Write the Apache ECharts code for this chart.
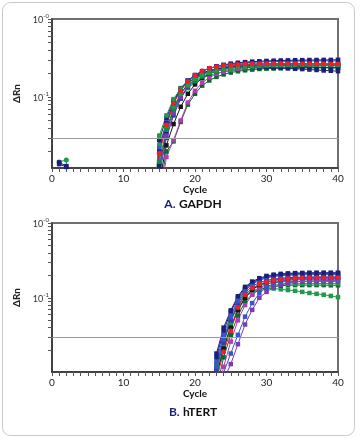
<!DOCTYPE html>
<html><head><meta charset="utf-8">
<script src="https://cdn.jsdelivr.net/npm/echarts@6/dist/echarts.min.js"></script>
<style>html,body{margin:0;padding:0;background:#fff}#c{width:360px;height:438px}</style>
</head><body><div id="c"></div>
<script>
// ---------- data ----------
const cyclesA = [14,15,16,17,18,19,20,21,22,23,24,25,26,27,28,29,30,31,32,33,34,35,36,37,38,39,40];
const cyclesB = [22,23,24,25,26,27,28,29,30,31,32,33,34,35,36,37,38,39,40];
const earlyCycles = [1,2,3];
const thresholdA = 0.0316;
const thresholdB = 0.028;
const yTicksMajor = [0.1, 1];
const yTicksMinor = [0.02,0.03,0.04,0.05,0.06,0.07,0.08,0.09,0.1,0.2,0.3,0.4,0.5,0.6,0.7,0.8,0.9,1];

// GAPDH curves
const gGreenLead = [0.002,0.032,0.058,0.094,0.128,0.155,0.176,0.193,0.207,0.218,0.227,0.234,0.24,0.245,0.249,0.252,0.254,0.256,0.257,0.258,0.258,0.259,0.259,0.259,0.259,0.258,0.258];
const gNavyLead = [0.001,0.028,0.054,0.09,0.13,0.162,0.186,0.204,0.218,0.228,0.236,0.242,0.246,0.249,0.251,0.252,0.252,0.252,0.251,0.25,0.248,0.246,0.244,0.242,0.24,0.238,0.236];
const gNavyLow = [0.001,0.013,0.035,0.07,0.11,0.148,0.178,0.2,0.215,0.226,0.233,0.238,0.241,0.242,0.242,0.241,0.24,0.238,0.236,0.233,0.23,0.228,0.225,0.222,0.219,0.217,0.214];
const gBlueTop = [0.001,0.022,0.048,0.086,0.126,0.162,0.192,0.215,0.232,0.245,0.255,0.263,0.269,0.274,0.278,0.281,0.283,0.285,0.286,0.287,0.288,0.289,0.289,0.29,0.29,0.29,0.29];
const gPurpleLag = [0.001,0.004,0.017,0.028,0.05,0.085,0.12,0.152,0.178,0.198,0.212,0.222,0.23,0.236,0.241,0.245,0.248,0.25,0.252,0.253,0.254,0.254,0.254,0.254,0.254,0.253,0.253];
const gDarkGreenLag = [0.001,0.006,0.02,0.027,0.048,0.08,0.11,0.14,0.163,0.181,0.195,0.206,0.214,0.22,0.225,0.229,0.232,0.234,0.236,0.237,0.238,0.239,0.239,0.24,0.24,0.24,0.24];
const gGreenMid = [0.001,0.024,0.045,0.075,0.11,0.142,0.17,0.193,0.21,0.223,0.232,0.239,0.244,0.248,0.251,0.253,0.254,0.255,0.256,0.256,0.256,0.256,0.256,0.256,0.255,0.255,0.255];
const gBlack = [0.001,0.008,0.024,0.045,0.075,0.11,0.145,0.175,0.198,0.215,0.228,0.237,0.243,0.248,0.251,0.253,0.255,0.256,0.257,0.257,0.257,0.257,0.257,0.256,0.256,0.256,0.255];
const gViolet = [0.001,0.01,0.03,0.058,0.095,0.135,0.168,0.195,0.215,0.23,0.241,0.249,0.255,0.259,0.262,0.264,0.266,0.267,0.268,0.268,0.268,0.268,0.268,0.267,0.267,0.266,0.266];
const gTeal = [0.001,0.015,0.038,0.068,0.1,0.132,0.16,0.183,0.2,0.214,0.224,0.232,0.238,0.243,0.247,0.25,0.252,0.254,0.255,0.256,0.257,0.257,0.258,0.258,0.258,0.258,0.258];
const gNavyTop = [0.001,0.02,0.046,0.084,0.124,0.16,0.19,0.214,0.233,0.248,0.259,0.268,0.275,0.28,0.284,0.287,0.29,0.292,0.294,0.295,0.296,0.297,0.298,0.298,0.299,0.299,0.3];
const gGreenLow = [0.001,0.02,0.04,0.068,0.1,0.13,0.155,0.175,0.19,0.201,0.21,0.216,0.221,0.225,0.228,0.23,0.232,0.233,0.234,0.235,0.235,0.235,0.236,0.236,0.236,0.236,0.236];
const gMagenta = [0.001,0.012,0.032,0.062,0.1,0.138,0.17,0.196,0.215,0.229,0.239,0.246,0.251,0.255,0.258,0.26,0.261,0.262,0.263,0.263,0.263,0.263,0.263,0.263,0.262,0.262,0.262];
const gRed = [0.001,0.019,0.044,0.083,0.12,0.158,0.19,0.215,0.233,0.245,0.253,0.258,0.262,0.264,0.266,0.267,0.268,0.268,0.268,0.268,0.268,0.267,0.267,0.266,0.266,0.265,0.265];
// GAPDH early noise points (cycles 1-3)
const gEarlyNavy = [0.0145,0.013,0.001];
const gEarlyNavy2 = [0.0138,0.0127,0.001];
const gEarlyGreen = [0.0147,0.0156,0.001];

// hTERT curves
const hNavyLead = [0.002,0.018,0.04,0.068,0.105,0.14,0.165,0.183,0.196,0.204,0.209,0.212,0.214,0.215,0.216,0.216,0.216,0.216,0.216];
const hBlue = [0.002,0.014,0.032,0.058,0.095,0.13,0.157,0.176,0.19,0.199,0.205,0.209,0.212,0.213,0.214,0.215,0.215,0.215,0.215];
const hGreenLow = [0.001,0.012,0.026,0.048,0.078,0.105,0.122,0.13,0.133,0.133,0.13,0.127,0.124,0.12,0.116,0.113,0.11,0.106,0.102];
const hGreen = [0.001,0.01,0.022,0.042,0.07,0.1,0.122,0.135,0.143,0.148,0.151,0.153,0.154,0.155,0.155,0.155,0.155,0.155,0.155];
const hDarkGreen = [0.001,0.006,0.016,0.032,0.058,0.088,0.112,0.128,0.137,0.142,0.145,0.147,0.148,0.148,0.148,0.148,0.148,0.147,0.147];
const hPurpleLag = [0.001,0.002,0.008,0.013,0.024,0.044,0.069,0.1,0.12,0.137,0.15,0.158,0.163,0.166,0.168,0.169,0.17,0.17,0.17];
const hBlueLag = [0.001,0.003,0.01,0.018,0.032,0.056,0.085,0.115,0.138,0.155,0.166,0.173,0.177,0.18,0.181,0.182,0.182,0.182,0.182];
const hNavy = [0.002,0.016,0.036,0.065,0.1,0.135,0.16,0.178,0.19,0.198,0.203,0.206,0.208,0.209,0.21,0.21,0.21,0.21,0.21];
const hBlack = [0.001,0.009,0.021,0.04,0.068,0.1,0.128,0.148,0.162,0.171,0.177,0.181,0.184,0.186,0.187,0.188,0.188,0.188,0.188];
const hViolet = [0.001,0.011,0.025,0.05,0.085,0.118,0.143,0.16,0.171,0.178,0.183,0.186,0.188,0.189,0.19,0.19,0.19,0.19,0.19];
const hGreenMid = [0.001,0.013,0.028,0.05,0.08,0.11,0.132,0.146,0.155,0.16,0.163,0.165,0.166,0.166,0.166,0.166,0.166,0.166,0.166];
const hMagenta = [0.001,0.004,0.012,0.026,0.05,0.08,0.11,0.135,0.152,0.162,0.168,0.172,0.174,0.175,0.176,0.176,0.176,0.176,0.176];
const hBlueMid = [0.001,0.012,0.028,0.055,0.09,0.125,0.152,0.171,0.184,0.192,0.197,0.2,0.202,0.203,0.204,0.204,0.204,0.204,0.204];
const hRed = [0.001,0.008,0.019,0.036,0.074,0.11,0.135,0.152,0.163,0.171,0.176,0.18,0.182,0.184,0.185,0.186,0.186,0.186,0.186];

// ---------- styling ----------
const C = {navy:'#1c1f78', blue:'#3a55c8', green:'#1f9a48', dgreen:'#0d6630', red:'#e8212e',
  purple:'#7a3ab8', magenta:'#b23cb0', black:'#151515', violet:'#3b3aa8', teal:'#17894a'};

function mk(grid, xs, vals, color, sym) {
  return {type:'line', xAxisIndex:grid, yAxisIndex:grid, data: xs.map((c,i)=>[c, vals[i]]),
    symbol: sym || 'rect', symbolSize: sym === 'circle' ? 5 : 4.5, showAllSymbol: true,
    lineStyle:{width:1, color: color}, itemStyle:{color: color}, clip:true, silent:true, z: 3};
}

const seriesA = [
  [gGreenLow,C.green],[gDarkGreenLag,C.dgreen],[gPurpleLag,C.magenta],[gBlack,C.black],
  [gNavyLow,C.navy],[gTeal,C.teal],[gViolet,C.violet],[gMagenta,C.purple],[gGreenMid,C.green],
  [gBlueTop,C.blue],[gNavyTop,C.navy],[gNavyLead,C.navy],[gGreenLead,C.green]
].map(s => mk(0, cyclesA, s[0], s[1]));
seriesA.push(mk(0, cyclesA, gRed, C.red, 'circle'));
seriesA.push(mk(0, earlyCycles, gEarlyNavy2, C.navy));
seriesA.push(mk(0, earlyCycles, gEarlyGreen, C.green, 'circle'));
seriesA.push(mk(0, earlyCycles, gEarlyNavy, C.navy));

const seriesB = [
  [hGreenLow,C.green],[hDarkGreen,C.dgreen],[hGreen,C.green],[hGreenMid,C.teal],[hPurpleLag,C.purple],
  [hMagenta,C.magenta],[hBlueLag,C.blue],[hBlack,C.black],[hViolet,C.violet],[hBlueMid,C.blue],
  [hNavy,C.navy],[hBlue,C.blue],[hNavyLead,C.navy]
].map(s => mk(1, cyclesB, s[0], s[1]));
seriesB.push(mk(1, cyclesB, hRed, C.red, 'circle'));

function thrSeries(grid, thr) {
  return {type:'line', xAxisIndex:grid, yAxisIndex:grid, data:[], silent:true,
    markLine:{silent:true, symbol:'none', label:{show:false}, animation:false,
      lineStyle:{color:'#9a9a9a', width:1, type:'solid'}, data:[{yAxis: thr}]}, z:2};
}

const FONT = 'Lato, "DejaVu Sans", sans-serif';
function xAx(grid) {
  return {type:'value', gridIndex:grid, min:0, max:40, interval:10,
    name:'Cycle', nameLocation:'middle', nameGap:17,
    nameTextStyle:{fontFamily:FONT, fontWeight:'bold', fontSize:10, color:'#111'},
    axisLine:{show:true, lineStyle:{color:'#333', width:1.5}},
    axisTick:{show:true, inside:false, length:4, lineStyle:{color:'#555'}},
    minorTick:{show:true, splitNumber:10, length:4, lineStyle:{color:'#555'}},
    axisLabel:{fontFamily:FONT, fontSize:10, color:'#222', margin:6},
    splitLine:{show:false}, minorSplitLine:{show:false}};
}
function yAx(grid, min) {
  return {type:'log', logBase:10, gridIndex:grid, min:min, max:1,
    name:'ΔRn', nameLocation:'middle', nameGap:25, nameRotate:90,
    nameTextStyle:{fontFamily:FONT, fontWeight:'bold', fontSize:10, color:'#222'},
    axisLine:{show:true, lineStyle:{color:'#333', width:1.5}},
    axisTick:{show:true, inside:false, length:4, customValues: yTicksMinor, lineStyle:{color:'#555'}},
    axisLabel:{customValues: yTicksMajor, margin:3, fontFamily:FONT, color:'#333',
      formatter: v => '{b|10}{s|-' + Math.abs(Math.round(Math.log10(v))) + '}',
      rich:{b:{fontSize:9, fontFamily:FONT, color:'#333', verticalAlign:'bottom', lineHeight:12},
            s:{fontSize:6, fontFamily:FONT, color:'#333', verticalAlign:'top', lineHeight:12}}},
    splitLine:{show:false}, minorTick:{show:false}};
}

const chart = echarts.init(document.getElementById('c'), null, {renderer:'canvas'});
chart.setOption({
  animation:false,
  backgroundColor:'#fff',
  grid:[
    {left:52, top:19, width:286, height:149, show:true, borderColor:'#707070', borderWidth:2, backgroundColor:'transparent'},
    {left:52, top:223, width:286, height:149, show:true, borderColor:'#707070', borderWidth:2, backgroundColor:'transparent'}
  ],
  xAxis:[xAx(0), xAx(1)],
  yAxis:[yAx(0, 0.0123), yAx(1, 0.0102)],
  graphic:[
    {type:'rect', shape:{x:2.5, y:2.5, width:352, height:433, r:8}, style:{fill:'none', stroke:'#c9c9c9', lineWidth:1}, silent:true},
    {type:'text', x:193, y:204, style:{text:'{a|A.} {b|GAPDH}', align:'center', verticalAlign:'middle',
      rich:{a:{fontFamily:FONT, fontWeight:'bold', fontSize:12, fill:'#1c2470'}, b:{fontFamily:FONT, fontWeight:'bold', fontSize:12, fill:'#111'}}}},
    {type:'text', x:193, y:412, style:{text:'{a|B.} {b|hTERT}', align:'center', verticalAlign:'middle',
      rich:{a:{fontFamily:FONT, fontWeight:'bold', fontSize:12, fill:'#1c2470'}, b:{fontFamily:FONT, fontWeight:'bold', fontSize:12, fill:'#111'}}}}
  ],
  series:[thrSeries(0, thresholdA), thrSeries(1, thresholdB)].concat(seriesA, seriesB)
});
</script></body></html>
